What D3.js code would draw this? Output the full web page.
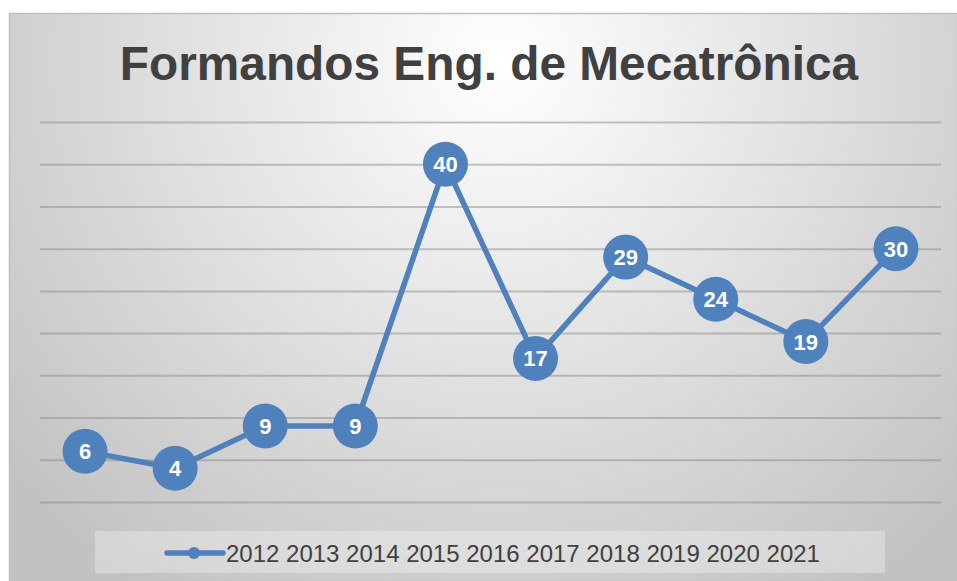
<!DOCTYPE html>
<html>
<head>
<meta charset="utf-8">
<script src="https://cdn.jsdelivr.net/npm/d3@7"></script>
<style>
  html, body { margin: 0; padding: 0; background: #fff; }
  svg { display: block; font-family: 'Liberation Sans', Arial, sans-serif; }
</style>
</head>
<body>
<div id="chart"></div>
<script>
// chart data
let categories = ['2012', '2013', '2014', '2015', '2016', '2017', '2018', '2019', '2020', '2021'];
let values = [6, 4, 9, 9, 40, 17, 29, 24, 19, 30];
let yTicks = [0, 5, 10, 15, 20, 25, 30, 35, 40, 45];
let seriesName = categories.join(' ');
let title = 'Formandos Eng. de Mecatrônica';

let width = 957, height = 581;
let margin = { top: 122, right: 16, bottom: 79, left: 40 };
let blue = '#4f81bd';

let svg = d3.select('#chart').append('svg')
    .attr('width', width)
    .attr('height', height);

let defs = svg.append('defs');
let grad = defs.append('radialGradient')
    .attr('id', 'bg')
    .attr('gradientUnits', 'userSpaceOnUse')
    .attr('cx', 500).attr('cy', 60).attr('r', 640);
grad.append('stop').attr('offset', '0%').attr('stop-color', '#ffffff');
grad.append('stop').attr('offset', '100%').attr('stop-color', '#c2c2c2');

// chart area with border
svg.append('rect')
    .attr('x', 9.5).attr('y', 13.5)
    .attr('width', width - 9).attr('height', height - 13)
    .style('fill', 'url(#bg)')
    .style('stroke', '#bfbfbf')
    .style('stroke-width', 1.5);

svg.append('text')
    .attr('x', 489).attr('y', 80)
    .attr('text-anchor', 'middle')
    .style('font-size', '47.8px')
    .style('font-weight', 'bold')
    .style('fill', '#404040')
    .text(title);

let x = d3.scaleBand()
    .domain(categories)
    .range([margin.left, width - margin.right]);

let y = d3.scaleLinear()
    .domain([0, 45])
    .range([height - margin.bottom, margin.top]);

// gridlines
let grid = d3.axisLeft(y)
    .tickValues(yTicks)
    .tickSize(-(width - margin.right - margin.left))
    .tickFormat('');

svg.append('g')
    .attr('class', 'grid')
    .attr('transform', 'translate(' + margin.left + ',0)')
    .call(grid)
    .call(g => g.select('.domain').remove())
    .selectAll('line')
    .style('stroke', '#8c8c8c')
    .style('stroke-opacity', 0.5)
    .style('stroke-width', 2);

let cx = function(d, i) { return x(categories[i]) + x.bandwidth() / 2; };

let line = d3.line()
    .x(cx)
    .y(function(d) { return y(d); });

svg.append('path')
    .datum(values)
    .attr('d', line)
    .style('fill', 'none')
    .style('stroke', blue)
    .style('stroke-width', 5.5)
    .style('stroke-linejoin', 'round');

let points = svg.selectAll('.point')
    .data(values)
    .enter()
    .append('g')
    .attr('class', 'point');

points.append('circle')
    .attr('cx', cx)
    .attr('cy', function(d) { return y(d); })
    .attr('r', 22.5)
    .style('fill', blue);

points.append('text')
    .attr('x', cx)
    .attr('y', function(d) { return y(d) + 8; })
    .attr('text-anchor', 'middle')
    .style('font-size', '22px')
    .style('font-weight', 'bold')
    .style('fill', '#ffffff')
    .text(function(d) { return d; });

// legend
let legend = svg.append('g').attr('class', 'legend');
legend.append('rect')
    .attr('x', 95).attr('y', 531)
    .attr('width', 790).attr('height', 42)
    .style('fill', '#ffffff')
    .style('fill-opacity', 0.3);
legend.append('line')
    .attr('x1', 167).attr('x2', 223)
    .attr('y1', 553).attr('y2', 553)
    .style('stroke', blue)
    .style('stroke-width', 5.5)
    .style('stroke-linecap', 'round');
legend.append('circle')
    .attr('cx', 194).attr('cy', 553).attr('r', 6)
    .style('fill', blue);
legend.append('text')
    .attr('x', 226).attr('y', 561.5)
    .style('font-size', '24px')
    .style('fill', '#404040')
    .text(seriesName);
</script>
</body>
</html>
